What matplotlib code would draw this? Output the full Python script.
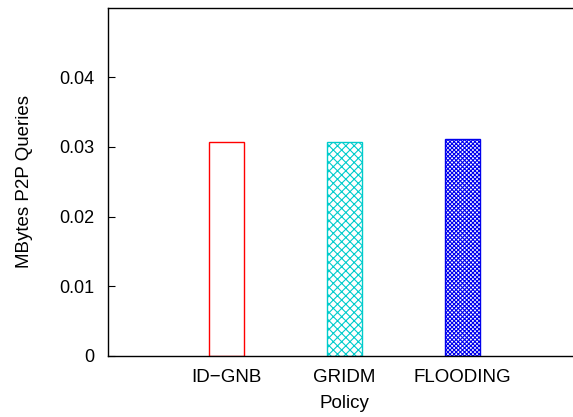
import matplotlib
matplotlib.use("Agg")
import matplotlib.pyplot as plt

categories = ["ID\u2212GNB", "GRIDM", "FLOODING"]
values = [0.0307, 0.0307, 0.0312]
colors = ["#ff0000", "#00cccc", "#0000ee"]
hatches = [None, "xxxx", "xxxxxxxx"]
yticks = [0, 0.01, 0.02, 0.03, 0.04]
ytick_labels = ["0", "0.01", "0.02", "0.03", "0.04"]

plt.rcParams["font.family"] = ["Liberation Sans", "DejaVu Sans"]
plt.rcParams["hatch.linewidth"] = 0.8

fig = plt.figure(figsize=(5.73, 4.17), dpi=100)
ax = fig.add_axes([108 / 573, 1 - 356 / 417, (581 - 108) / 573, (356 - 7.5) / 417])

x = [1, 2, 3]
for xi, v, c, h in zip(x, values, colors, hatches):
    plt.rcParams["hatch.color"] = c
    ax.bar(xi, v, width=0.3, facecolor="white", edgecolor=c, hatch=h, linewidth=1.0)

ax.set_xlim(0, 4)
ax.set_ylim(0, 0.05)
ax.set_xticks(x)
ax.set_xticklabels(categories, fontsize=13.5)
ax.set_yticks(yticks)
ax.set_yticklabels(ytick_labels, fontsize=13)
ax.tick_params(axis="x", length=0, pad=9)
ax.tick_params(axis="y", direction="in", length=5, pad=10)
ax.set_xlabel("Policy", fontsize=13.5, labelpad=7)
ax.set_ylabel("MBytes P2P Queries", fontsize=13.5, labelpad=19)
ax.spines["right"].set_visible(False)
for s in ["left", "top", "bottom"]:
    ax.spines[s].set_linewidth(1.0)

fig.savefig("out.png", dpi=100)
